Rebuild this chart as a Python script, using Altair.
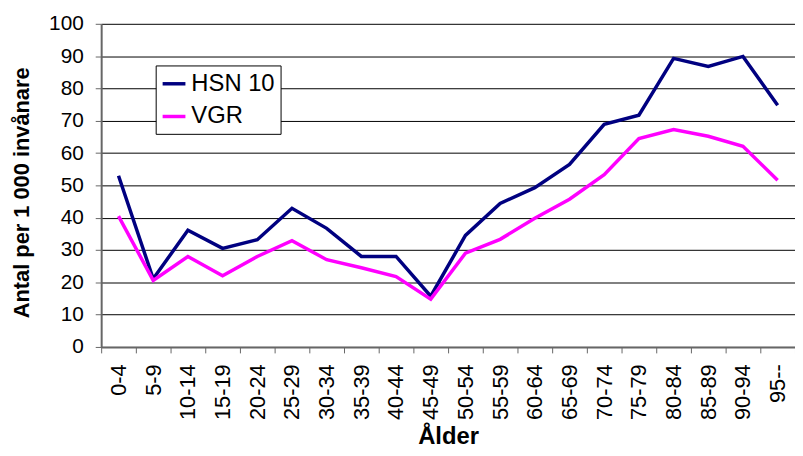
import altair as alt
import pandas as pd

categories = ["0-4", "5-9", "10-14", "15-19", "20-24", "25-29", "30-34", "35-39",
              "40-44", "45-49", "50-54", "55-59", "60-64", "65-69", "70-74",
              "75-79", "80-84", "85-89", "90-94", "95--"]
hsn10 = [53.0, 21.1, 36.1, 30.5, 33.2, 42.9, 36.7, 28.0, 28.0, 15.7,
         34.5, 44.4, 49.3, 56.5, 68.9, 71.7, 89.3, 86.8, 89.9, 74.8]
vgr = [40.5, 20.6, 28.0, 22.0, 28.0, 32.9, 27.0, 24.5, 21.8, 14.8,
       29.0, 33.3, 39.8, 45.7, 53.3, 64.5, 67.3, 65.2, 62.1, 51.6]
series_names = ["HSN 10", "VGR"]
series_colors = ["#000080", "#FF00FF"]

rows = []
for name, vals in zip(series_names, [hsn10, vgr]):
    for c, v in zip(categories, vals):
        rows.append({"Ålder": c, "Värde": v, "Serie": name})
df = pd.DataFrame(rows)

FONT = "Liberation Sans"

chart = alt.Chart(df).mark_line(strokeWidth=3.5).encode(
    x=alt.X("Ålder:N", sort=categories, bandPosition=0.5,
            scale=alt.Scale(type="band", paddingInner=0, paddingOuter=0),
            axis=alt.Axis(title="Ålder", labelAngle=270, labelAlign="right",
                          labelBaseline="middle", labelFontSize=22, labelPadding=11,
                          tickBand="extent", tickSize=6, tickColor="#666666",
                          domainColor="#666666", domainWidth=2, grid=False,
                          titleFontSize=24, titleFontWeight="bold",
                          titleY=97, titleBaseline="alphabetic", labelColor="#000000")),
    y=alt.Y("Värde:Q", scale=alt.Scale(domain=[0, 100], nice=False),
            axis=alt.Axis(title="Antal per 1 000 invånare", values=list(range(0, 101, 10)),
                          labelFontSize=21, labelPadding=12, tickSize=6,
                          tickColor="#666666", domainColor="#666666", domainWidth=2,
                          grid=True, gridColor="#000000", gridWidth=1,
                          titleFontSize=22, titleFontWeight="bold", titleAngle=270,
                          titleX=-80, titleY=170, titleAlign="center",
                          titleBaseline="middle", labelColor="#000000")),
    color=alt.Color("Serie:N",
                    scale=alt.Scale(domain=series_names, range=series_colors),
                    legend=alt.Legend(title=None, orient="none", legendX=55, legendY=42,
                                      symbolType="stroke", symbolSize=529,
                                      symbolStrokeWidth=3.5, labelFontSize=24,
                                      labelOffset=4, rowPadding=7, padding=5,
                                      strokeColor="#000000", fillColor="#FFFFFF",
                                      labelColor="#000000")),
).properties(
    width=700, height=326,
    autosize="none",
    padding={"left": 94, "top": 14, "right": 0, "bottom": 100},
).configure(font=FONT).configure_view(stroke=None)

chart.save("out.html", embed_options={"renderer": "svg", "actions": False})
